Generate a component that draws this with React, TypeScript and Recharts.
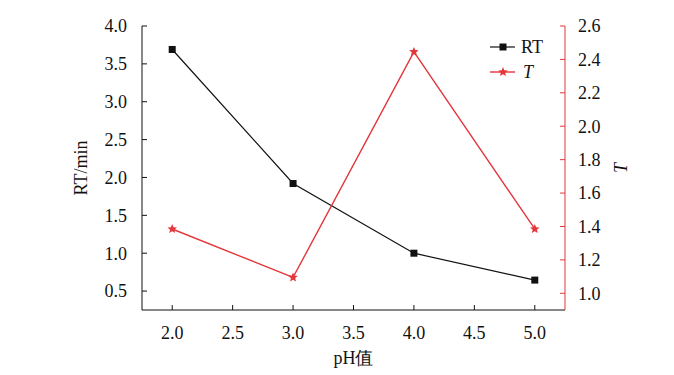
import React from 'react';
import { LineChart, Line, XAxis, YAxis, Label } from 'recharts';

if (typeof document !== 'undefined') document.body.style.margin = '0';

const phValues = [2.0, 3.0, 4.0, 5.0];
const rtValues = [3.69, 1.92, 1.0, 0.645];
const tValues = [1.385, 1.095, 2.445, 1.385];
const xTicks = [2.0, 2.5, 3.0, 3.5, 4.0, 4.5, 5.0];
const rtTicks = [0.5, 1.0, 1.5, 2.0, 2.5, 3.0, 3.5, 4.0];
const tTicks = [1.0, 1.2, 1.4, 1.6, 1.8, 2.0, 2.2, 2.4, 2.6];

const RED = '#e3373b';
const FONT = '"Liberation Serif", "Times New Roman", serif';

const data = phValues.map((ph, i) => ({ ph, rt: rtValues[i], t: tValues[i] }));

const fmt = (v: number) => v.toFixed(1);

const SquareDot = (props: any) => {
    const { cx, cy } = props;
    return <rect x={cx - 3.5} y={cy - 3.5} width={7} height={7} fill="#111" />;
};

const starPath = (cx: number, cy: number, r: number) => {
    const pts: string[] = [];
    for (let i = 0; i < 10; i++) {
        const rad = i % 2 === 0 ? r : r * 0.45;
        const a = -Math.PI / 2 + (i * Math.PI) / 5;
        pts.push(`${cx + rad * Math.cos(a)},${cy + rad * Math.sin(a)}`);
    }
    return 'M' + pts.join('L') + 'Z';
};

const StarDot = (props: any) => {
    const { cx, cy } = props;
    return <path d={starPath(cx, cy, 5)} fill={RED} />;
};

// legend drawn as an overlay so it doesn't eat into the plot area
const LegendBox = () => (
    <svg width={80} height={50} style={{ position: 'absolute', left: 488, top: 36, overflow: 'visible' }}>
        <line x1={2} y1={11} x2={27} y2={11} stroke="#111" strokeWidth={1.2} />
        <rect x={11.5} y={7.5} width={7} height={7} fill="#111" />
        <text x={33} y={17} fontFamily={FONT} fontSize={18} fill="#111">RT</text>
        <line x1={2} y1={36} x2={27} y2={36} stroke={RED} strokeWidth={1.4} />
        <path d={starPath(15, 36, 5)} fill={RED} />
        <text x={35} y={42} fontFamily={FONT} fontSize={18} fontStyle="italic" fill="#111">T</text>
    </svg>
);

export default function App() {
    const tickStyle = { fontFamily: FONT, fontSize: 18, fill: '#111' };
    return (
        <div style={{ width: 674, height: 375, position: 'relative', fontFamily: FONT }}>
            <LineChart width={674} height={375} data={data} margin={{ top: 26, right: 49, bottom: 0, left: 62 }} style={{ fontFamily: FONT }}>
                <XAxis
                    dataKey="ph"
                    type="number"
                    domain={[1.75, 5.25]}
                    ticks={xTicks}
                    tickFormatter={fmt}
                    tick={tickStyle}
                    tickSize={-5}
                    tickMargin={21}
                    height={65}
                    axisLine={{ stroke: '#111' }}
                    tickLine={{ stroke: '#111' }}
                    allowDataOverflow
                >
                    <Label value="pH值" position="insideBottom" offset={11} style={{ fontFamily: FONT, fontSize: 18, fill: '#111' }} />
                </XAxis>
                <XAxis xAxisId="top" orientation="top" dataKey="ph" type="number" domain={[1.75, 5.25]} height={0} tick={false} tickLine={false} axisLine={{ stroke: '#111' }} />
                <YAxis
                    yAxisId="rt"
                    domain={[0.25, 4.0]}
                    ticks={rtTicks}
                    tickFormatter={fmt}
                    tick={tickStyle}
                    tickSize={-5}
                    tickMargin={20}
                    width={80}
                    axisLine={{ stroke: '#111' }}
                    tickLine={{ stroke: '#111' }}
                    allowDataOverflow
                >
                    <Label value="RT/min" angle={-90} position="insideLeft" offset={19} style={{ fontFamily: FONT, fontSize: 18, fill: '#111', textAnchor: 'middle' }} />
                </YAxis>
                <YAxis
                    yAxisId="t"
                    orientation="right"
                    domain={[0.9, 2.6]}
                    ticks={tTicks}
                    tickFormatter={fmt}
                    tick={tickStyle}
                    tickSize={-5}
                    tickMargin={18}
                    width={60}
                    axisLine={{ stroke: RED }}
                    tickLine={{ stroke: RED }}
                    allowDataOverflow
                >
                    <Label value="T" angle={-90} position="insideRight" offset={4} style={{ fontFamily: FONT, fontSize: 18, fontStyle: 'italic', fill: '#111', textAnchor: 'middle' }} />
                </YAxis>
                <Line yAxisId="rt" dataKey="rt" stroke="#111" strokeWidth={1.2} dot={<SquareDot />} activeDot={false} isAnimationActive={false} />
                <Line yAxisId="t" dataKey="t" stroke={RED} strokeWidth={1.4} dot={<StarDot />} activeDot={false} isAnimationActive={false} />
            </LineChart>
            <LegendBox />
        </div>
    );
}
